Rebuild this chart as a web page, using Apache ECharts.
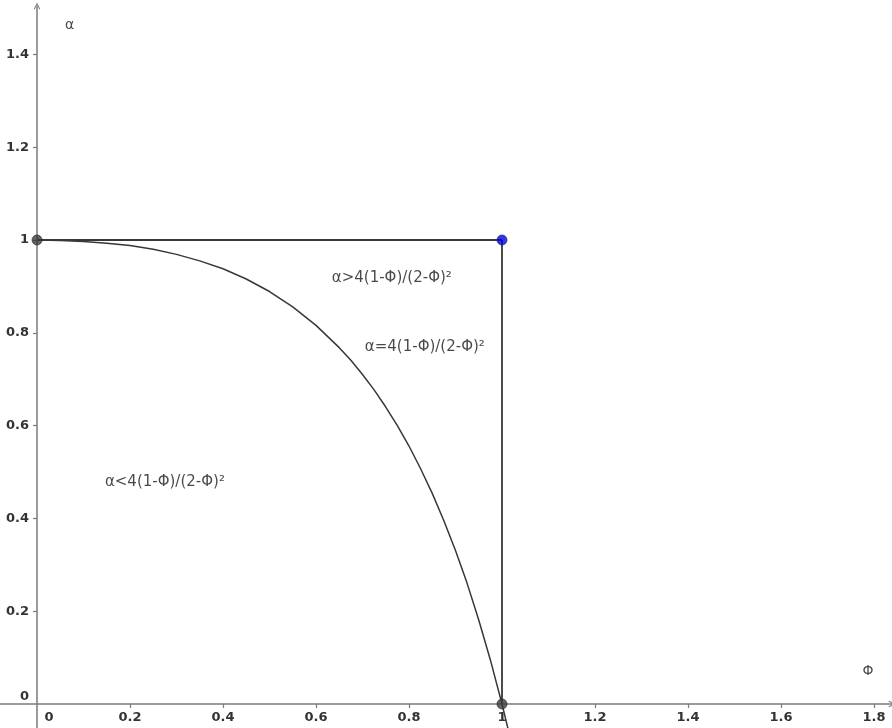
<!DOCTYPE html>
<html>
<head>
<meta charset="utf-8">
<script src="https://cdn.jsdelivr.net/npm/echarts@6/dist/echarts.min.js"></script>
<style>html,body{margin:0;padding:0;background:#fff;}#c{width:892px;height:728px;}</style>
</head>
<body>
<div id="c"></div>
<script>
// Axis tick labels
const phiTicks = [0.2, 0.4, 0.6, 0.8, 1, 1.2, 1.4, 1.6, 1.8];
const phiLabels = [0, 0.2, 0.4, 0.6, 0.8, 1, 1.2, 1.4, 1.6, 1.8];
const alphaTicks = [0.2, 0.4, 0.6, 0.8, 1, 1.2, 1.4];
const alphaLabels = [0, 0.2, 0.4, 0.6, 0.8, 1, 1.2, 1.4];

// Curve α = 4(1-Φ)/(2-Φ)²
const curvePhi = [0, 0.05, 0.1, 0.15, 0.2, 0.25, 0.3, 0.35, 0.4, 0.45, 0.5, 0.55, 0.6, 0.65, 0.675, 0.7, 0.725, 0.75, 0.775, 0.8, 0.825, 0.85, 0.875, 0.9, 0.925, 0.95, 0.975, 1, 1.015];
const curveAlpha = [1, 0.999, 0.997, 0.993, 0.988, 0.980, 0.969, 0.955, 0.938, 0.916, 0.889, 0.856, 0.816, 0.768, 0.741, 0.710, 0.677, 0.640, 0.600, 0.556, 0.507, 0.454, 0.395, 0.331, 0.260, 0.181, 0.095, 0, -0.062];

// Segments
const topSegPhi = [0, 1];
const topSegAlpha = [1, 1];
const rightSegPhi = [1, 1];
const rightSegAlpha = [1, 0];

// Points
const darkPointsPhi = [0, 1];
const darkPointsAlpha = [1, 0];
const bluePointPhi = [1];
const bluePointAlpha = [1];

// Text annotations
const textLabels = ['α>4(1-Φ)/(2-Φ)²', 'α=4(1-Φ)/(2-Φ)²', 'α<4(1-Φ)/(2-Φ)²'];
const textPhi = [0.634, 0.705, 0.146];
const textAlpha = [0.918, 0.769, 0.478];
// Axis names
const axisNames = ['α', 'Φ'];
const axisNamePhi = [0.060, 1.775];
const axisNameAlpha = [1.463, 0.071];

const zip = (a, b) => a.map((v, i) => [v, b[i]]);

const FONT = 'DejaVu Sans';
const chevron = 'path://M0,10 L5,0 L10,10 L8.6,10.8 L5,3.2 L1.4,10.8 Z';
const tickLabelStyle = {color: '#333333', fontFamily: FONT, fontSize: 13, fontWeight: 'bold'};

const chart = echarts.init(document.getElementById('c'), null, {renderer: 'canvas'});
chart.setOption({
  backgroundColor: '#ffffff',
  animation: false,
  grid: {left: 0, right: 0, top: 6, bottom: 0, containLabel: false, outerBoundsMode: 'none'},
  xAxis: {
    type: 'value',
    position: 'bottom',
    offset: -24,
    min: -37 / 465,
    max: 855 / 465,
    splitLine: {show: false},
    axisLine: {onZero: false, lineStyle: {color: '#7a7a7a', width: 1.5},
      symbol: ['none', chevron], symbolSize: [9, 7]},
    axisTick: {show: true, length: 4, lineStyle: {color: '#7a7a7a', width: 1.2}, customValues: phiTicks},
    axisLabel: Object.assign({
      show: true, customValues: phiLabels, margin: 7,
      formatter: v => (v === 0 ? '{z|0}' : String(v)),
      rich: {z: Object.assign({padding: [0, 0, 0, 24]}, tickLabelStyle)}
    }, tickLabelStyle)
  },
  yAxis: {
    type: 'value',
    position: 'left',
    offset: -37,
    min: -24 / 464,
    max: 698 / 464,
    splitLine: {show: false},
    axisLine: {onZero: false, lineStyle: {color: '#7a7a7a', width: 1.5},
      symbol: ['none', chevron], symbolSize: [9, 7]},
    axisTick: {show: true, length: 4, lineStyle: {color: '#7a7a7a', width: 1.2}, customValues: alphaTicks},
    axisLabel: Object.assign({
      show: true, customValues: alphaLabels, margin: 8,
      formatter: v => (v === 0 ? '{z|0}' : String(v)),
      rich: {z: Object.assign({padding: [0, 0, 14, 0]}, tickLabelStyle)}
    }, tickLabelStyle)
  },
  series: [
    {type: 'line', data: zip(curvePhi, curveAlpha), showSymbol: false, symbol: 'none', clip: true,
      lineStyle: {color: '#383838', width: 1.5}, z: 3},
    {type: 'line', data: zip(topSegPhi, topSegAlpha), showSymbol: false, symbol: 'none',
      lineStyle: {color: '#383838', width: 1.8}, z: 3},
    {type: 'line', data: zip(rightSegPhi, rightSegAlpha), showSymbol: false, symbol: 'none',
      lineStyle: {color: '#383838', width: 1.8}, z: 3},
    {type: 'scatter', data: zip(darkPointsPhi, darkPointsAlpha), symbol: 'circle', symbolSize: 10,
      itemStyle: {color: '#3c3c3c', borderColor: '#222', borderWidth: 0.8}, z: 5},
    {type: 'scatter', data: zip(bluePointPhi, bluePointAlpha), symbol: 'circle', symbolSize: 10,
      itemStyle: {color: '#0000f0', borderColor: '#222', borderWidth: 0.8}, z: 5},
    {type: 'scatter', data: textLabels.map((t, i) => ({value: [textPhi[i], textAlpha[i]], name: t})),
      symbolSize: 0, silent: true, z: 6,
      label: {show: true, position: 'right', distance: 0, formatter: p => p.name,
        color: '#1a1a1a', fontFamily: FONT, fontSize: 15}},
    {type: 'scatter', data: axisNames.map((t, i) => ({value: [axisNamePhi[i], axisNameAlpha[i]], name: t})),
      symbolSize: 0, silent: true, z: 6,
      label: {show: true, position: 'right', distance: 0, formatter: p => p.name,
        color: '#1a1a1a', fontFamily: FONT, fontSize: 14}}
  ]
});
</script>
</body>
</html>
